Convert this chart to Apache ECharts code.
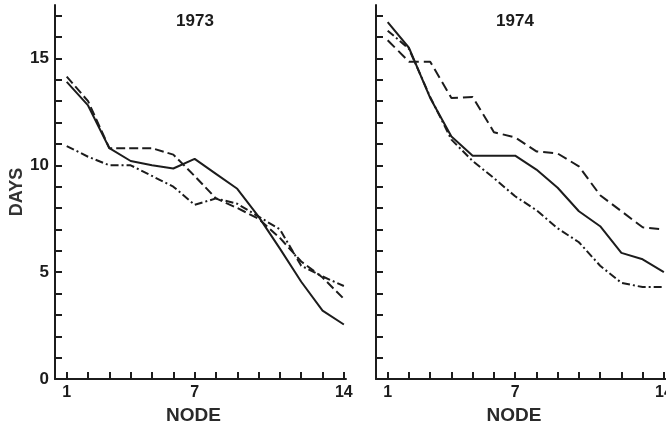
<!DOCTYPE html>
<html>
<head>
<meta charset="utf-8">
<script src="https://cdn.jsdelivr.net/npm/echarts@6/dist/echarts.min.js"></script>
<style>
  html, body { margin: 0; padding: 0; background: #fff; }
  #main { width: 666px; height: 423px; }
</style>
</head>
<body>
<div id="main"></div>
<script>
// node numbers
var nodes = [1, 2, 3, 4, 5, 6, 7, 8, 9, 10, 11, 12, 13, 14];
var nodeLabels = [1, 7, 14];
var dayTicks = [0, 1, 2, 3, 4, 5, 6, 7, 8, 9, 10, 11, 12, 13, 14, 15, 16, 17];
var dayLabels = [0, 5, 10, 15];

// 1973
var solid73   = [13.9, 12.8, 10.8, 10.2, 10.0, 9.85, 10.3, 9.6, 8.9, 7.6, 6.1, 4.55, 3.2, 2.55];
var dashed73  = [14.15, 13.0, 10.8, 10.8, 10.8, 10.5, 9.5, 8.45, 8.0, 7.5, 6.6, 5.5, 4.75, 3.75];
var dashdot73 = [10.9, 10.4, 10.0, 10.0, 9.5, 9.0, 8.15, 8.45, 8.2, 7.6, 7.0, 5.3, 4.8, 4.35];

// 1974
var solid74   = [16.7, 15.5, 13.15, 11.35, 10.45, 10.45, 10.45, 9.8, 8.95, 7.85, 7.15, 5.9, 5.6, 5.0];
var dashed74  = [15.85, 14.85, 14.85, 13.15, 13.2, 11.55, 11.3, 10.65, 10.55, 9.95, 8.6, 7.85, 7.1, 7.0];
var dashdot74 = [16.3, 15.45, 13.2, 11.2, 10.2, 9.4, 8.55, 7.9, 7.05, 6.4, 5.3, 4.5, 4.3, 4.3];

function pairs(ys){
    return nodes.map(function(n, i){ return [n, ys[i]]; });
}

var ink = '#1c1c1c';
var fontFam = '"Liberation Sans", Arial, sans-serif';

function xAxisFor(idx){
    return {
        type: 'value', gridIndex: idx, min: 0.45, max: 14.1,
        axisLine: { lineStyle: { color: ink, width: 2 } },
        axisTick: { inside: true, length: 7, customValues: nodes, lineStyle: { color: ink, width: 2 } },
        axisLabel: { customValues: nodeLabels, margin: 6, color: ink, fontWeight: 'bold', fontSize: 16, fontFamily: fontFam },
        splitLine: { show: false },
        name: 'NODE',
        nameLocation: 'middle', nameGap: 20,
        nameTextStyle: { color: '#2a2a2a', fontWeight: 'bold', fontSize: 19, fontFamily: fontFam, padding: [0, 14, 0, 0] }
    };
}

function yAxisFor(idx, showLabels){
    return {
        type: 'value', gridIndex: idx, min: 0, max: 17.5,
        axisLine: { show: true, lineStyle: { color: ink, width: 2 } },
        axisTick: { show: true, inside: true, length: 7, customValues: dayTicks, lineStyle: { color: ink, width: 2 } },
        axisLabel: { show: showLabels, customValues: dayLabels, margin: 6, color: ink, fontWeight: 'bold', fontSize: 17, fontFamily: fontFam },
        splitLine: { show: false },
        name: showLabels ? 'DAYS' : '',
        nameLocation: 'middle', nameGap: 29, nameRotate: 90,
        nameTextStyle: { color: '#333', fontWeight: 'bold', fontSize: 18, fontFamily: fontFam }
    };
}

function line(idx, ys, dash){
    return {
        type: 'line', xAxisIndex: idx, yAxisIndex: idx,
        data: pairs(ys), symbol: 'none', silent: true,
        lineStyle: { color: ink, width: 2, type: dash }
    };
}

var myChart = echarts.init(document.getElementById('main'), null, { renderer: 'canvas' });
myChart.setOption({
    animation: false,
    backgroundColor: '#fff',
    title: [
        { text: '1973', left: 195, top: 13, textAlign: 'center', padding: 0,
          textStyle: { color: ink, fontWeight: 'bold', fontSize: 17, fontFamily: fontFam } },
        { text: '1974', left: 515, top: 13, textAlign: 'center', padding: 0,
          textStyle: { color: ink, fontWeight: 'bold', fontSize: 17, fontFamily: fontFam } }
    ],
    grid: [
        { left: 55, top: 5, width: 291, height: 374, outerBoundsMode: 'none', containLabel: false },
        { left: 376, top: 5, width: 290, height: 374, outerBoundsMode: 'none', containLabel: false }
    ],
    xAxis: [xAxisFor(0), xAxisFor(1)],
    yAxis: [yAxisFor(0, true), yAxisFor(1, false)],
    series: [
        line(0, solid73, 'solid'),
        line(0, dashed73, [9, 4]),
        line(0, dashdot73, [8, 3, 2, 3]),
        line(1, solid74, 'solid'),
        line(1, dashed74, [10, 5]),
        line(1, dashdot74, [8, 3, 2, 3])
    ]
});
</script>
</body>
</html>
